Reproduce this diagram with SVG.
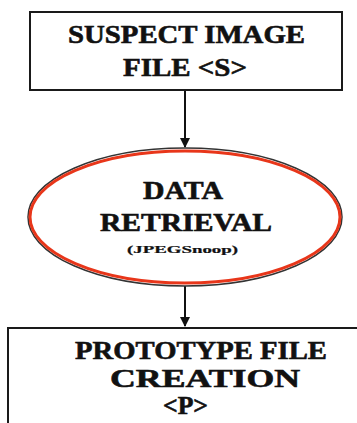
<svg xmlns="http://www.w3.org/2000/svg" width="357" height="423" viewBox="0 0 357 423">
<defs>
<style>
.box{fill:#fff;stroke:#1a1a1a;stroke-width:2}
.t{font-family:"Liberation Serif","DejaVu Serif","Times New Roman",serif;font-weight:bold;fill:#111;stroke:#111;stroke-width:0.6}
.big{font-size:26px}
.small{font-size:10px;stroke-width:0.2}
.conn{stroke:#111;stroke-width:2;fill:none}
</style>
<marker id="arr" viewBox="0 0 10 10" refX="9" refY="5" markerWidth="5" markerHeight="5" orient="auto" markerUnits="strokeWidth">
<path d="M0,0 L10,5 L0,10 z" fill="#111"/>
</marker>
</defs>
<rect width="357" height="423" fill="#fff"/>
<g id="connectors">
<line class="conn" x1="185" y1="90" x2="185" y2="147" marker-end="url(#arr)"/>
<line class="conn" x1="185" y1="286" x2="185" y2="326" marker-end="url(#arr)"/>
</g>
<g id="suspect-image-file">
<rect class="box" x="30" y="12" width="312" height="78"/>
<text class="t big" x="68" y="43" textLength="237" lengthAdjust="spacingAndGlyphs">SUSPECT IMAGE</text>
<text class="t big" x="123" y="76" textLength="124" lengthAdjust="spacingAndGlyphs">FILE &lt;S&gt;</text>
</g>
<g id="data-retrieval">
<ellipse cx="185" cy="217" rx="157" ry="69" fill="#fff" stroke="#333" stroke-width="1.5"/>
<ellipse cx="185" cy="217" rx="155" ry="66" fill="none" stroke="#e8361a" stroke-width="3"/>
<text class="t big" x="143" y="199" textLength="80" lengthAdjust="spacingAndGlyphs">DATA</text>
<text class="t big" x="100" y="231" textLength="172" lengthAdjust="spacingAndGlyphs">RETRIEVAL</text>
<text class="t small" x="127" y="253" textLength="111" lengthAdjust="spacingAndGlyphs">(JPEGSnoop)</text>
</g>
<g id="prototype-file-creation">
<path class="box" d="M8,423 V328 H357"/>
<text class="t big" x="75" y="359" textLength="252" lengthAdjust="spacingAndGlyphs">PROTOTYPE FILE</text>
<text class="t big" x="110" y="387" textLength="190" lengthAdjust="spacingAndGlyphs">CREATION</text>
<text class="t big" x="163" y="414" textLength="45" lengthAdjust="spacingAndGlyphs">&lt;P&gt;</text>
</g>
</svg>
